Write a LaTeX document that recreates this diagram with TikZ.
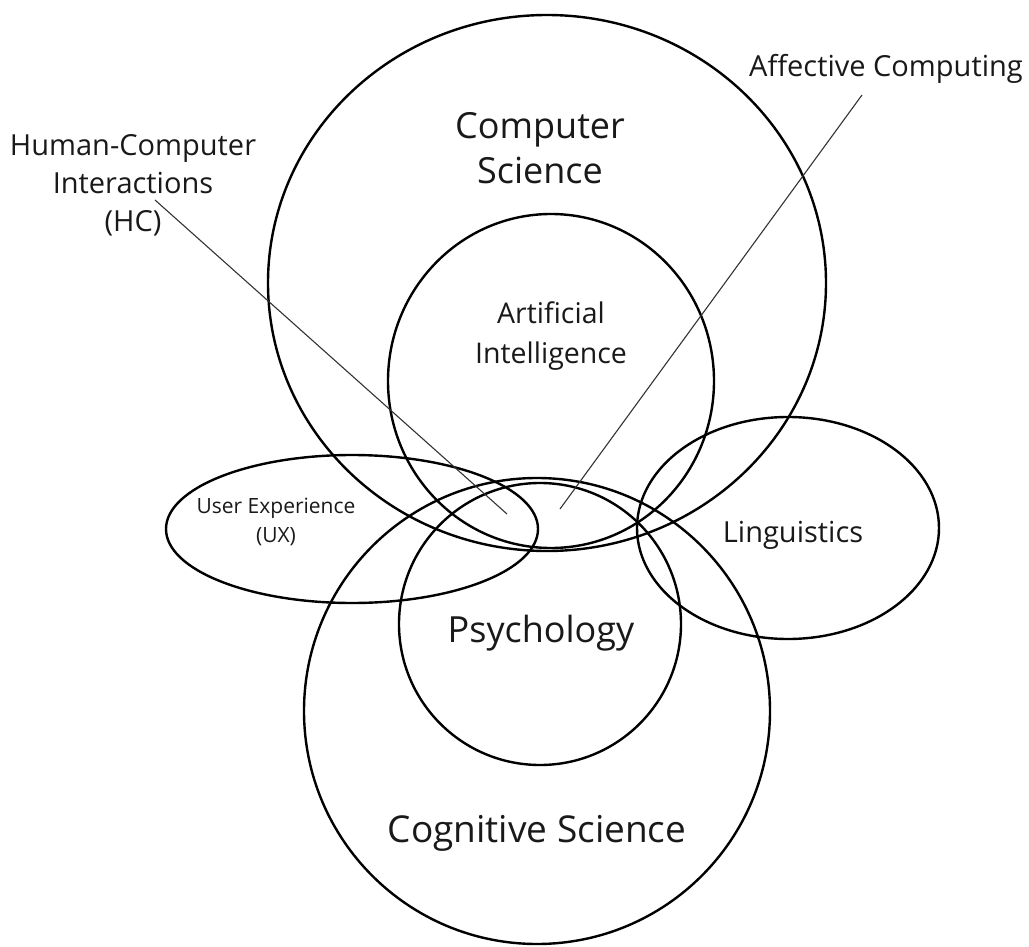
\documentclass[tikz,border=0pt]{standalone}
\usepackage{fontspec}
\setmainfont{Open Sans}
\begin{document}
\begin{tikzpicture}[x=1pt,y=-1pt,
  ring/.style={draw=black,line width=2.4pt},
  leader/.style={draw=black!80,line width=1.1pt},
  lbl/.style={inner sep=0pt,align=center,text=black!90}]
\useasboundingbox (0,0) rectangle (1029,947);
% circles and ellipses
\draw[ring] (547,283) ellipse [x radius=279pt, y radius=268pt];
\draw[ring] (551,381) ellipse [x radius=163pt, y radius=167pt];
\draw[ring] (537,711) circle [radius=233pt];
\draw[ring] (540,624) circle [radius=141pt];
\draw[ring] (352,529) ellipse [x radius=186pt, y radius=74pt];
\draw[ring] (788,528) ellipse [x radius=151pt, y radius=111pt];
% labels
\node[lbl,font=\fontsize{36}{45}\selectfont] (cs) at (540,148) {Computer\\Science};
\node[lbl,font=\fontsize{28.5}{40}\selectfont] (ai) at (551,336) {Artificial\\Intelligence};
\node[lbl,font=\fontsize{21}{29}\selectfont] (ux) at (276,522) {User Experience\\(UX)};
\node[lbl,font=\fontsize{29}{30}\selectfont,anchor=base] (ling) at (793,542) {Linguistics};
\node[lbl,font=\fontsize{36}{40}\selectfont,anchor=base] (psy) at (541,642) {Psychology};
\node[lbl,font=\fontsize{37}{40}\selectfont,anchor=base] (cog) at (537,842) {Cognitive Science};
\node[lbl,font=\fontsize{29}{38}\selectfont] (hc) at (133,185) {Human-Computer\\Interactions\\(HC)};
\node[lbl,font=\fontsize{29}{30}\selectfont,anchor=base] (ac) at (886,77) {Affective Computing};
% leader lines
\coordinate (hcS) at (155,200);
\coordinate (hcE) at (507,514);
\coordinate (acS) at (862,95);
\coordinate (acE) at (560,509);
\draw[leader] (hcS) -- (hcE);
\draw[leader] (acS) -- (acE);
\end{tikzpicture}
\end{document}
